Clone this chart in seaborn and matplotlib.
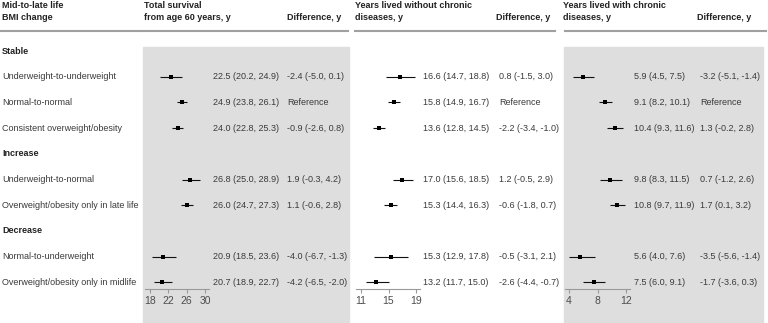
import numpy as np
import seaborn as sns
import matplotlib.pyplot as plt
from matplotlib.patches import Rectangle
from matplotlib.lines import Line2D
from matplotlib.transforms import blended_transform_factory

plt.rcParams['font.family'] = ['Liberation Sans', 'DejaVu Sans']

# rows of the table (group headers + BMI change categories)
row_labels = ["Stable", "Underweight-to-underweight", "Normal-to-normal",
              "Consistent overweight/obesity", "Increase", "Underweight-to-normal",
              "Overweight/obesity only in late life", "Decrease",
              "Normal-to-underweight", "Overweight/obesity only in midlife"]
group_rows = [0, 4, 7]
data_rows = [1, 2, 3, 5, 6, 8, 9]

# total survival from age 60
tot_est = [22.5, 24.9, 24.0, 26.8, 26.0, 20.9, 20.7]
tot_lo = [20.2, 23.8, 22.8, 25.0, 24.7, 18.5, 18.9]
tot_hi = [24.9, 26.1, 25.3, 28.9, 27.3, 23.6, 22.7]
tot_diff = [-2.4, None, -0.9, 1.9, 1.1, -4.0, -4.2]
tot_diff_lo = [-5.0, None, -2.6, -0.3, -0.6, -6.7, -6.5]
tot_diff_hi = [0.1, None, 0.8, 4.2, 2.8, -1.3, -2.0]
tot_ticks = [18, 22, 26, 30]

# years lived without chronic diseases
free_est = [16.6, 15.8, 13.6, 17.0, 15.3, 15.3, 13.2]
free_lo = [14.7, 14.9, 12.8, 15.6, 14.4, 12.9, 11.7]
free_hi = [18.8, 16.7, 14.5, 18.5, 16.3, 17.8, 15.0]
free_diff = [0.8, None, -2.2, 1.2, -0.6, -0.5, -2.6]
free_diff_lo = [-1.5, None, -3.4, -0.5, -1.8, -3.1, -4.4]
free_diff_hi = [3.0, None, -1.0, 2.9, 0.7, 2.1, -0.7]
free_ticks = [11, 15, 19]

# years lived with chronic diseases
chr_est = [5.9, 9.1, 10.4, 9.8, 10.8, 5.6, 7.5]
chr_lo = [4.5, 8.2, 9.3, 8.3, 9.7, 4.0, 6.0]
chr_hi = [7.5, 10.1, 11.6, 11.5, 11.9, 7.6, 9.1]
chr_diff = [-3.2, None, 1.3, 0.7, 1.7, -3.5, -1.7]
chr_diff_lo = [-5.1, None, -0.2, -1.2, 0.1, -5.6, -3.6]
chr_diff_hi = [-1.4, None, 2.8, 2.6, 3.2, -1.4, 0.3]
chr_ticks = [4, 8, 12]

W, H = 768, 323
fig = plt.figure(figsize=(W / 100, H / 100), dpi=100)


def fx(px):
    return px / W


def fy(px):
    return 1 - px / H


FS = 6.5
TXT = '#3a3a3a'
BG_GREY = '#dedede'

# gray backgrounds for panel 1 and 3
for x0, x1 in [(143, 349), (564, 763)]:
    fig.patches.append(Rectangle((fx(x0), fy(323)), fx(x1) - fx(x0), fy(47) - fy(323),
                                 transform=fig.transFigure, color=BG_GREY, zorder=-5))

# header underlines
for x0, x1 in [(0, 142), (144, 348), (355, 555), (565, 766)]:
    fig.add_artist(Line2D([fx(x0), fx(x1)], [fy(31), fy(31)], color='#a0a0a0', lw=1.5))

# column headers
hdr = dict(fontsize=FS, fontweight='bold', color='#222222', va='center', ha='left')
fig.text(fx(2), fy(6), 'Mid-to-late life', **hdr)
fig.text(fx(2), fy(18), 'BMI change', **hdr)
fig.text(fx(144), fy(6), 'Total survival', **hdr)
fig.text(fx(144), fy(18), 'from age 60 years, y', **hdr)
fig.text(fx(287), fy(18), 'Difference, y', **hdr)
fig.text(fx(355), fy(6), 'Years lived without chronic', **hdr)
fig.text(fx(355), fy(18), 'diseases, y', **hdr)
fig.text(fx(496), fy(18), 'Difference, y', **hdr)
fig.text(fx(563), fy(6), 'Years lived with chronic', **hdr)
fig.text(fx(563), fy(18), 'diseases, y', **hdr)
fig.text(fx(697), fy(18), 'Difference, y', **hdr)

panels = [
    (tot_est, tot_lo, tot_hi, tot_diff, tot_diff_lo, tot_diff_hi, tot_ticks, (145, 209), (16.9, 30.87), 213, 287),
    (free_est, free_lo, free_hi, free_diff, free_diff_lo, free_diff_hi, free_ticks, (356, 420), (10.27, 19.58), 423, 499),
    (chr_est, chr_lo, chr_hi, chr_diff, chr_diff_lo, chr_diff_hi, chr_ticks, (565, 630), (3.44, 12.56), 634, 700),
]

row_top, row_step, axis_y = 51, 25.7, 289
ylim = ((axis_y - row_top) / row_step, (45 - row_top) / row_step)

axes = []
for est, lo, hi, d, dlo, dhi, ticks, (px0, px1), xlim, est_x, diff_x in panels:
    ax = fig.add_axes([fx(px0), fy(axis_y), fx(px1) - fx(px0), fy(45) - fy(axis_y)])
    ax.patch.set_alpha(0)
    ax.hlines(data_rows, lo, hi, color='#111111', lw=0.8)
    sns.scatterplot(x=est, y=data_rows, marker='s', s=5, color='black',
                    linewidth=0, legend=False, ax=ax, zorder=3)
    ax.set_xlim(*xlim)
    ax.set_ylim(*ylim)
    ax.set_xticks(ticks)
    ax.set_yticks([])
    for s in ['top', 'right', 'left']:
        ax.spines[s].set_visible(False)
    ax.spines['bottom'].set_color('#999999')
    ax.spines['bottom'].set_linewidth(0.8)
    ax.tick_params(axis='x', colors='#999999', labelcolor='#4d4d4d', labelsize=7.5,
                   length=3, width=0.8, pad=2)
    ax.set_xlabel('')
    ax.set_ylabel('')

    tr = blended_transform_factory(fig.transFigure, ax.transData)
    for r, e, l, h, de, dl, dh in zip(data_rows, est, lo, hi, d, dlo, dhi):
        ax.text(fx(est_x), r, f'{e:.1f} ({l:.1f}, {h:.1f})', transform=tr,
                fontsize=FS, color=TXT, va='center', ha='left')
        dtxt = 'Reference' if de is None else f'{de:.1f} ({dl:.1f}, {dh:.1f})'
        ax.text(fx(diff_x), r, dtxt, transform=tr,
                fontsize=FS, color=TXT, va='center', ha='left')
    axes.append(ax)

# row labels
tr = blended_transform_factory(fig.transFigure, axes[0].transData)
for i, lab in enumerate(row_labels):
    if i in group_rows:
        axes[0].text(fx(2), i, lab, transform=tr, fontsize=FS, fontweight='bold',
                     color='#222222', va='center', ha='left')
    else:
        axes[0].text(fx(2), i, lab, transform=tr, fontsize=FS, color=TXT,
                     va='center', ha='left')

plt.savefig('out.png', dpi=100)
